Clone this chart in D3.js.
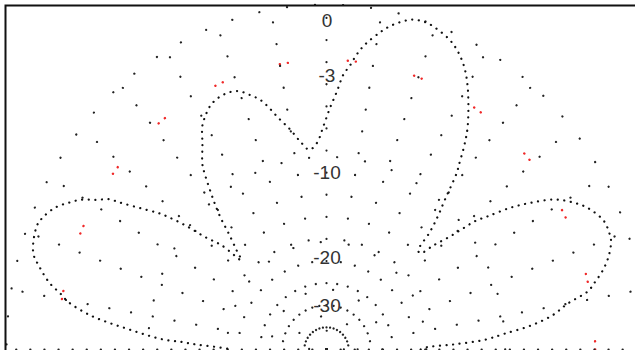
<!DOCTYPE html>
<html>
<head>
<meta charset="utf-8">
<script src="https://cdn.jsdelivr.net/npm/d3@7/dist/d3.min.js"></script>
<style>
  html, body { margin: 0; padding: 0; background: #fff; }
  svg { display: block; }
</style>
</head>
<body>
<svg id="chart" width="635" height="350"></svg>
<script>
// ---- data (angle in degrees, 0 = right, 90 = up; gain in dB) ----
const patternAngles = [0, 1.2, 2.1, 3.3, 4.7, 6.2, 8, 10, 11.7, 13, 15, 17, 19.5, 21.1, 23.3, 26.7, 29, 31.4, 33.6, 35.6,
  37.4, 38.7, 39.5, 40.5, 42.1, 43.5, 45, 46.5, 48, 49.6, 51.5, 52.3, 53.9, 55.7, 59.9, 62.4, 64.9, 67.1, 70.7, 72,
  74.4, 77.7, 79.4, 82.25, 83.7, 84.9, 86.2, 87.55, 89.1, 90.9, 92.9, 95.3, 97.8, 100.1, 102.3, 105.8, 107.9, 110, 112.2, 114.9,
  117.2, 119.3, 120.95, 123.1, 125.9, 126.8, 129.1, 130.9, 132.2, 134.4, 135.8, 137.3, 139.3, 140.7, 142, 142.9, 144.9, 146.6, 147.3, 148.9,
  150.4, 152, 154.2, 156.9, 158.5, 163, 165, 167.4, 169, 170.3, 172.3, 173.5, 174.4, 175.5, 176.7, 177.2, 178, 179, 180];
const patternDb = [-21, -19.9, -15.9, -12, -10, -7.6, -5.8, -4.6, -3.1, -2.6, -1.9, -1.4, -1.0, -0.95, -1.0, -1.55, -2.2, -3.1, -4.5, -6,
  -7.75, -8.9, -10.3, -11.9, -13.7, -15.5, -15.5, -13, -11.2, -9.6, -7.3, -6.7, -5.4, -4.2, -2.2, -1.3, -0.7, -0.37, -0.08, -0.04,
  -0.12, -0.66, -1.08, -1.96, -2.58, -3.27, -3.85, -5.0, -6.1, -7.5, -8.8, -9.3, -8.5, -7.45, -6.56, -4.93, -4.38, -3.9, -3.72, -3.74,
  -3.95, -4.38, -4.83, -5.88, -7.1, -7.8, -9.9, -11.7, -13.45, -15.7, -17, -13.9, -11.9, -9.8, -8.2, -7.3, -5.8, -4.4, -3.7, -3.0,
  -2.2, -1.65, -1.0, -0.57, -0.46, -0.73, -1.26, -2.05, -2.86, -3.43, -5.0, -6.5, -7.9, -9.5, -11.4, -13.5, -15.5, -18.9, -21];
const gridCirclesDb = [0, -10, -20, -30, -40, -50];
const refCircleDb = [-3];
const labelDb = [0, -3, -10, -20, -30];
const labelText = ["0", "-3", "-10", "-20", "-30"];
const spokeAngles = [0, 10, 20, 30, 40, 50, 60, 70, 80, 90, 100, 110, 120, 130, 140, 150, 160, 170, 180];

// ---- layout ----
const W = 635, H = 350;
const cx = 326.5, cy = 349.5, R0 = 320, ky = 1.078;
const svg = d3.select("#chart");
svg.append("rect").attr("width", W).attr("height", H).attr("fill", "#fff");

// ARRL-like log radial scale: r = R0 * 0.89^(-dB/2)
const logR = d3.scaleLinear().domain([-50, 0]).range([Math.log(R0 * Math.pow(0.89, 25)), Math.log(R0)]);
const rad = db => Math.exp(logR(db));
const ang = d3.scaleLinear().domain([0, 180]).range([0, Math.PI]);
const px = (a, r) => cx + r * Math.cos(ang(a));
const py = (a, r) => cy - ky * r * Math.sin(ang(a));

const arcAngles = d3.range(0, 180.5, 1);
const line = d3.line().x(d => d[0]).y(d => d[1]);

// grid circles
svg.append("g").selectAll("path").data(gridCirclesDb).join("path")
  .attr("d", db => line(arcAngles.map(a => [px(a, rad(db)), py(a, rad(db))])))
  .attr("fill", "none").attr("stroke", "#222").attr("stroke-width", 2.2)
  .attr("stroke-linecap", "round").attr("stroke-dasharray", "0.1 28");

// red -3 dB circle
svg.append("g").selectAll("path").data(refCircleDb).join("path")
  .attr("d", db => line(arcAngles.map(a => [px(a, rad(db)), py(a, rad(db))])))
  .attr("fill", "none").attr("stroke", "#f02828").attr("stroke-width", 2.4)
  .attr("stroke-linecap", "round").attr("stroke-dasharray", "0.1 8 0.1 60");

// spokes
svg.append("g").selectAll("path").data(spokeAngles).join("path")
  .attr("d", a => line([[px(a, 0), py(a, 0)], [px(a, R0), py(a, R0)]]))
  .attr("fill", "none").attr("stroke", "#222").attr("stroke-width", 2.2)
  .attr("stroke-linecap", "round")
  .attr("stroke-dasharray", a => (a === 0 || a === 180) ? "0.1 14" : "0.1 22");

// pattern
const pattern = patternAngles.map((a, i) => [a, patternDb[i]]);
svg.append("path")
  .attr("d", d3.line().curve(d3.curveCatmullRom)
    .x(d => px(d[0], rad(d[1]))).y(d => py(d[0], rad(d[1])))(pattern))
  .attr("fill", "none").attr("stroke", "#111").attr("stroke-width", 2.2)
  .attr("stroke-linecap", "round").attr("stroke-dasharray", "0.1 6.5");

// labels
svg.append("g").selectAll("text").data(labelDb).join("text")
  .attr("x", cx + 0.5)
  .attr("y", db => py(90, rad(db)) + 16)
  .attr("text-anchor", "middle").attr("dominant-baseline", "central")
  .attr("font-family", "Liberation Sans, Arial, sans-serif").attr("font-size", 19)
  .attr("fill", "#333")
  .text((db, i) => labelText[i]);

// frame
svg.append("rect").attr("x", 5.5).attr("y", 5.5).attr("width", 700).attr("height", 400)
  .attr("fill", "none").attr("stroke", "#111").attr("stroke-width", 2);
</script>
</body>
</html>
